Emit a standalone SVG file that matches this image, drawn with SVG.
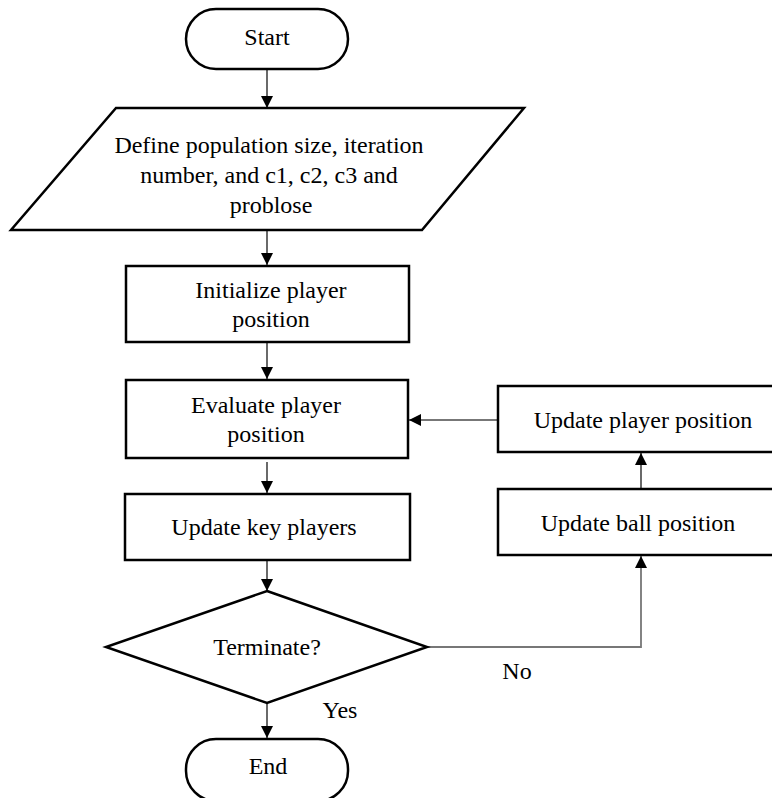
<svg xmlns="http://www.w3.org/2000/svg" width="772" height="798" viewBox="0 0 772 798">
<style>
.shape{fill:#fff;stroke:#000;stroke-width:2.5}
.lbl{font-family:"Liberation Serif","Times New Roman",serif;font-size:24px;fill:#000;text-anchor:middle}
.edge{fill:none;stroke:#444;stroke-width:1.6}
.edge2{fill:none;stroke:#777;stroke-width:1.8}
</style>
<defs>
<marker id="ah" markerUnits="userSpaceOnUse" markerWidth="12" markerHeight="12" viewBox="0 0 12 12" refX="12" refY="6" orient="auto">
<path d="M0,0 L12,6 L0,12 Z" fill="#000"/>
</marker>
</defs>
<rect width="772" height="798" fill="#fff"/>
<g id="connectors">
<line class="edge" x1="267" y1="69" x2="267" y2="108" marker-end="url(#ah)"/>
<line class="edge" x1="267" y1="230" x2="267" y2="265" marker-end="url(#ah)"/>
<line class="edge" x1="267" y1="342" x2="267" y2="379" marker-end="url(#ah)"/>
<line class="edge" x1="267" y1="462" x2="267" y2="493" marker-end="url(#ah)"/>
<line class="edge" x1="267" y1="560" x2="267" y2="591" marker-end="url(#ah)"/>
<line class="edge" x1="267" y1="703" x2="267" y2="738" marker-end="url(#ah)"/>
<polyline class="edge2" points="427,647 641,647 641,556" marker-end="url(#ah)"/>
<line class="edge" x1="641" y1="489" x2="641" y2="453" marker-end="url(#ah)"/>
<line class="edge2" x1="498" y1="420" x2="409" y2="420" marker-end="url(#ah)"/>
<text class="lbl" x="517" y="679">No</text>
<text class="lbl" x="340" y="718">Yes</text>
</g>
<g id="start">
<rect class="shape" x="186" y="9" width="162" height="60" rx="30" ry="30"/>
<text class="lbl" x="267" y="45">Start</text>
</g>
<g id="define">
<polygon class="shape" points="116,108 524,108 422,230 11,230"/>
<text class="lbl" x="269" y="153">Define population size, iteration</text>
<text class="lbl" x="269" y="183">number, and c1, c2, c3 and</text>
<text class="lbl" x="271" y="213">problose</text>
</g>
<g id="init">
<rect class="shape" x="126" y="266" width="283" height="76"/>
<text class="lbl" x="271" y="298">Initialize player</text>
<text class="lbl" x="271" y="327">position</text>
</g>
<g id="evaluate">
<rect class="shape" x="126" y="380" width="282" height="78"/>
<text class="lbl" x="266" y="413">Evaluate player</text>
<text class="lbl" x="266" y="442">position</text>
</g>
<g id="keyplayers">
<rect class="shape" x="125" y="494" width="285" height="66"/>
<text class="lbl" x="264" y="535">Update key players</text>
</g>
<g id="terminate">
<polygon class="shape" points="267,591 427,647 267,703 106,647"/>
<text class="lbl" x="267" y="655">Terminate?</text>
</g>
<g id="end">
<rect class="shape" x="186" y="739" width="162" height="62" rx="30" ry="30"/>
<text class="lbl" x="268" y="774">End</text>
</g>
<g id="ball">
<rect class="shape" x="498" y="489" width="290" height="66"/>
<text class="lbl" x="638" y="531">Update ball position</text>
</g>
<g id="playerpos">
<rect class="shape" x="498" y="386" width="290" height="66"/>
<text class="lbl" x="643" y="428">Update player position</text>
</g>
</svg>
